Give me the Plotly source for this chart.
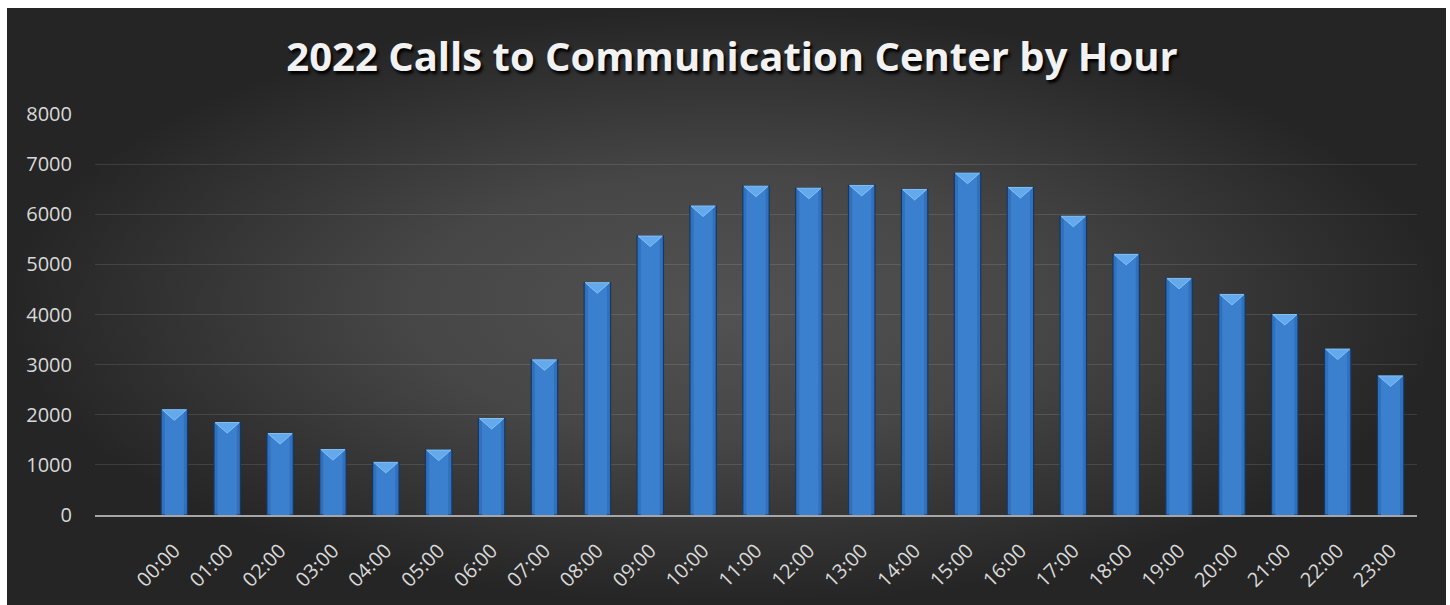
import plotly.graph_objects as go

# hourly call counts
hours = [f"{h:02d}:00" for h in range(24)]
calls = [2100, 1845, 1625, 1305, 1050, 1295, 1925, 3095, 4635, 5565,
         6165, 6560, 6520, 6575, 6495, 6820, 6535, 5960, 5200, 4720,
         4400, 4000, 3310, 2775]
y_ticks = [0, 1000, 2000, 3000, 4000, 5000, 6000, 7000, 8000]

title_text = "2022 Calls to Communication Center by Hour"

W, H = 1450, 605
BAR_W = 0.5
BEVEL = 210  # depth of the light top chevron, in data units

fig = go.Figure()

# dark card with a radial gradient, drawn on a full-page helper axis
fig.add_trace(go.Scatter(
    x=[7, 1446, 1446, 7, 7], y=[0, 0, 597, 597, 0],
    mode="lines", fill="toself", line=dict(width=0),
    fillgradient=dict(type="radial",
                      colorscale=[[0, "#525252"], [0.45, "#464646"],
                                  [0.8, "#313131"], [1, "#252525"]]),
    hoverinfo="skip", showlegend=False, xaxis="x", yaxis="y",
))

xs = list(range(len(hours)))

# main bars: darker body + lighter centre strip for a rounded look
fig.add_trace(go.Bar(
    x=xs, y=calls, width=BAR_W, xaxis="x2", yaxis="y2",
    marker=dict(color="#3070bd", line=dict(color="#163860", width=1.2)),
    hoverinfo="skip", showlegend=False,
))
fig.add_trace(go.Bar(
    x=xs, y=calls, width=BAR_W * 0.72, xaxis="x2", yaxis="y2",
    marker=dict(color="#3b80cf", line=dict(width=0)),
    hoverinfo="skip", showlegend=False,
))

# light chevron at the top of every bar
tx, ty = [], []
for i, v in zip(xs, calls):
    half = BAR_W / 2 - 0.02
    tx += [i - half, i + half, i, i - half, None]
    ty += [v, v, v - BEVEL, v, None]
fig.add_trace(go.Scatter(
    x=tx, y=ty, mode="lines", fill="toself",
    fillcolor="#64a9ec", line=dict(color="#84c0f5", width=1),
    xaxis="x2", yaxis="y2", hoverinfo="skip", showlegend=False,
))

tick_font = dict(family="Open Sans", size=20, color="#d9d9d9")

fig.update_layout(
    width=W, height=H,
    margin=dict(l=0, r=0, t=0, b=0, pad=0, autoexpand=False),
    paper_bgcolor="white",
    plot_bgcolor="rgba(0,0,0,0)",
    barmode="overlay",
    title=dict(
        text=title_text, x=732 / W, xanchor="center", y=1 - 57 / H, yanchor="middle",
        automargin=False,
        font=dict(family="Open Sans", size=40, color="#f2f2f2", weight="bold",
                  shadow="2px 3px 3px #000000"),
    ),
    xaxis=dict(domain=[0, 1], range=[0, W], visible=False, fixedrange=True,
               automargin=False),
    yaxis=dict(domain=[0, 1], range=[0, H], visible=False, fixedrange=True,
               automargin=False),
    xaxis2=dict(
        domain=[95 / W, 1417 / W], anchor="y2", range=[-1.5, 23.5],
        tickmode="array", tickvals=xs, ticktext=hours, tickangle=-45,
        tickfont=tick_font, showgrid=False, zeroline=False,
        showline=True, linecolor="#a6a6a6", linewidth=2,
        ticks="", ticklabelstandoff=14, automargin=False,
    ),
    yaxis2=dict(
        domain=[(H - 515) / H, (H - 114) / H], anchor="x2", range=[0, 8000],
        tickmode="array", tickvals=y_ticks, ticktext=[str(t) for t in y_ticks],
        tickfont=tick_font, showgrid=True, gridcolor="rgba(255,255,255,0.11)",
        gridwidth=1, zeroline=False, showline=False, ticks="",
        ticklabelstandoff=22, automargin=False,
    ),
)

fig.write_html(
    "out.html",
    config={"displayModeBar": False},
    post_script="document.body.style.margin='0';document.body.style.overflow='hidden';",
)
